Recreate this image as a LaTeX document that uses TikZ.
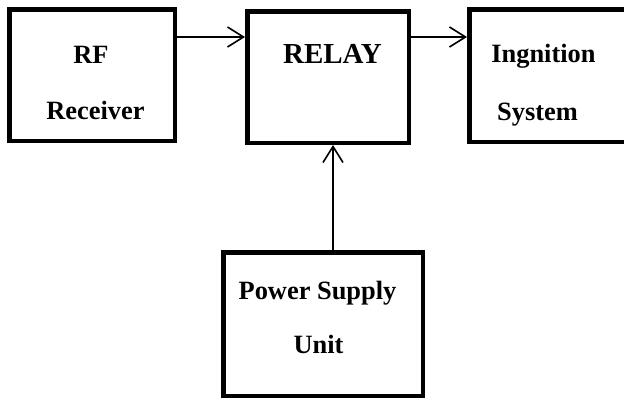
\documentclass[tikz,border=0pt]{standalone}
\usepackage{fontspec}
\setmainfont{Liberation Serif}
\usetikzlibrary{arrows.meta}
\begin{document}
\begin{tikzpicture}[x=1pt,y=-1pt,
  blockbox/.style={draw=black,line width=4.5pt,rectangle,inner sep=0pt,minimum width=#1},
  lbl/.style={anchor=base,inner sep=0pt,font=\fontsize{26.4}{31}\selectfont\bfseries},
  biglbl/.style={anchor=base,inner sep=0pt,font=\fontsize{29}{34}\selectfont\bfseries},
  conn/.style={line width=1.6pt,-{Straight Barb[length=16pt,width=20pt,line width=1.6pt]}}]
\useasboundingbox (0,0) rectangle (624,399);
\clip (0,0) rectangle (624,399);
% boxes
\node[blockbox=165.5pt,minimum height=131.5pt] (rf) at (92,75) {};
\node[blockbox=161.5pt,minimum height=131.5pt] (relay) at (328,77) {};
\node[blockbox=180pt,minimum height=132.5pt] (ign) at (559.25,75.5) {};
\node[blockbox=199.5pt,minimum height=143.5pt] (psu) at (323,324) {};
% texts
\node[lbl] (t1) at (91,63) {RF};
\node[lbl] (t2) at (95.5,119) {Receiver};
\node[biglbl] (t3) at (332.5,63) {RELAY};
\node[lbl] (t4) at (543.5,62) {Ingnition};
\node[lbl] (t5) at (537.5,120) {System};
\node[lbl] (t6) at (317.5,299) {Power Supply};
\node[lbl] (t7) at (318.5,353) {Unit};
% connectors
\coordinate (h) at (0,37);
\coordinate (v) at (333,0);
\draw[conn] (rf.east |- h) -- (relay.west |- h);
\draw[conn] (relay.east |- h) -- (ign.west |- h);
\draw[conn] (psu.north -| v) -- (relay.south -| v);
\end{tikzpicture}
\end{document}
